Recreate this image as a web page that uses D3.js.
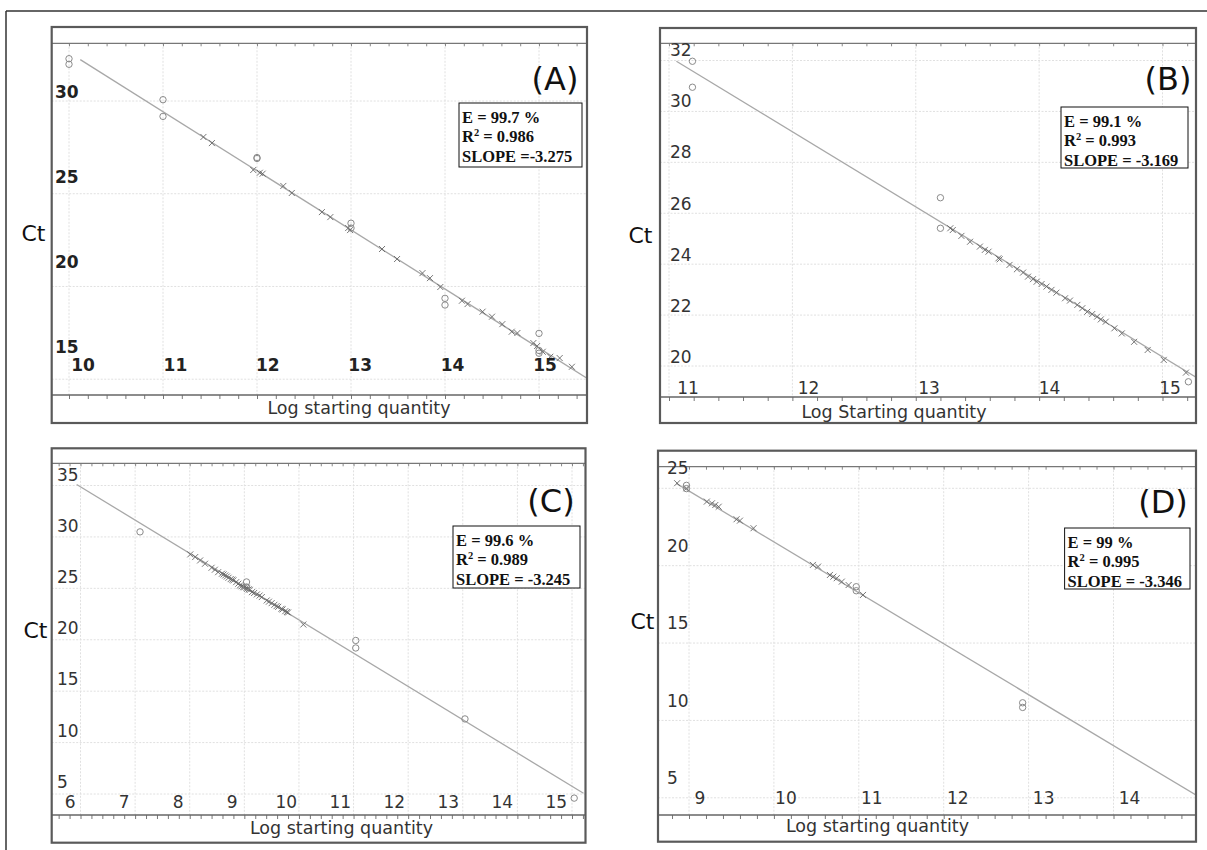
<!DOCTYPE html>
<html><head><meta charset="utf-8">
<script src="https://cdn.jsdelivr.net/npm/d3@7"></script>
<style>body{margin:0;background:#fff}svg{display:block}</style>
</head><body><svg id="c" width="1207" height="850"></svg>
<script>
// ---------------- data ----------------
const panelLetters = ["(A)", "(B)", "(C)", "(D)"];
const statE = ["E = 99.7 %", "E = 99.1 %", "E = 99.6 %", "E = 99 %"];
const statR2 = ["0.986", "0.993", "0.989", "0.995"];
const statSlope = ["SLOPE =-3.275", "SLOPE = -3.169", "SLOPE = -3.245", "SLOPE = -3.346"];
const xTitles = ["Log starting quantity", "Log Starting quantity", "Log starting quantity", "Log starting quantity"];
const yTitle = "Ct";

const xTicksA = [10, 11, 12, 13, 14, 15];
const yTicksA = [15, 20, 25, 30];
const xTicksB = [11, 12, 13, 14, 15];
const yTicksB = [20, 22, 24, 26, 28, 30, 32];
const xTicksC = [6, 7, 8, 9, 10, 11, 12, 13, 14, 15];
const yTicksC = [5, 10, 15, 20, 25, 30, 35];
const xTicksD = [9, 10, 11, 12, 13, 14];
const yTicksD = [5, 10, 15, 20, 25];

// regression line end points (log qty, Ct)
const fitA_x = [10.12, 15.51], fitA_ct = [32.23, 15.05];
const fitB_x = [11.06, 15.28], fitB_ct = [31.97, 19.53];
const fitC_x = [5.93, 15.21],  fitC_ct = [35.1, 5.07];
const fitD_x = [8.85, 14.97],  fitD_ct = [25.32, 5.18];

// circle markers (standards)
const circlesA_x  = [10, 10, 11, 11, 12, 12, 13, 13, 14, 14, 15, 15, 15];
const circlesA_ct = [32.28, 31.98, 30.07, 29.17, 26.95, 26.9, 23.41, 23.15, 19.36, 19.0, 17.47, 16.55, 16.4];
const circlesB_x  = [11.19, 11.19, 13.2, 13.2, 15.21];
const circlesB_ct = [31.97, 30.95, 26.61, 25.41, 19.38];
const circlesC_x  = [7.09, 9.04, 9.04, 11.04, 11.04, 13.04, 15.04];
const circlesC_ct = [30.49, 25.62, 25.13, 19.93, 19.2, 12.3, 4.6];
const circlesD_x  = [8.97, 8.97, 10.97, 10.97, 12.93, 12.93];
const circlesD_ct = [25.19, 24.98, 18.64, 18.38, 11.14, 10.84];

// cross markers (unknowns)
const crossesA_x  = [11.43, 11.52, 11.96, 12.03, 12.06, 12.28, 12.37, 12.69, 12.78, 12.97, 12.99, 13.33, 13.49, 13.76, 13.84, 13.95, 14.18, 14.24, 14.40, 14.50, 14.61, 14.71, 14.77, 14.94, 14.98, 15.04, 15.12, 15.22, 15.35];
const crossesA_ct = [28.06, 27.73, 26.28, 26.13, 26.08, 25.42, 25.04, 24.01, 23.74, 23.15, 23.04, 22.02, 21.48, 20.72, 20.45, 19.97, 19.23, 19.05, 18.64, 18.37, 17.97, 17.56, 17.49, 16.95, 16.79, 16.48, 16.21, 16.14, 15.67];
const crossesB_x  = [13.28, 13.30, 13.37, 13.44, 13.52, 13.56, 13.59, 13.67, 13.68, 13.76, 13.82, 13.87, 13.91, 13.95, 13.98, 14.02, 14.06, 14.10, 14.14, 14.21, 14.25, 14.31, 14.35, 14.39, 14.43, 14.47, 14.50, 14.54, 14.61, 14.67, 14.77, 14.88, 15.01, 15.19];
const crossesB_ct = [25.41, 25.34, 25.11, 24.88, 24.69, 24.56, 24.49, 24.23, 24.19, 23.97, 23.80, 23.67, 23.51, 23.41, 23.31, 23.22, 23.12, 22.99, 22.88, 22.66, 22.57, 22.40, 22.27, 22.13, 22.04, 21.94, 21.83, 21.74, 21.48, 21.28, 20.95, 20.63, 20.24, 19.74];
const crossesC_x  = [8.01, 8.10, 8.19, 8.28, 8.40, 8.46, 8.52, 8.59, 8.62, 8.65, 8.68, 8.71, 8.75, 8.78, 8.80, 8.85, 8.89, 8.92, 8.95, 8.98, 9.00, 9.04, 9.05, 9.08, 9.10, 9.14, 9.18, 9.23, 9.28, 9.32, 9.41, 9.45, 9.50, 9.55, 9.59, 9.62, 9.68, 9.70, 9.75, 9.78, 9.80, 10.08];
const crossesC_ct = [28.30, 28.04, 27.71, 27.39, 27.00, 26.81, 26.57, 26.42, 26.35, 26.25, 26.15, 26.03, 25.90, 25.85, 25.77, 25.60, 25.45, 25.28, 25.20, 25.12, 25.10, 25.06, 24.95, 24.90, 24.85, 24.63, 24.55, 24.41, 24.30, 24.15, 23.82, 23.70, 23.56, 23.40, 23.27, 23.20, 23.01, 22.95, 22.78, 22.70, 22.65, 21.48];
const crossesD_x  = [8.86, 8.97, 9.21, 9.27, 9.31, 9.35, 9.56, 9.60, 9.76, 10.46, 10.52, 10.66, 10.70, 10.74, 10.80, 10.88, 11.05];
const crossesD_ct = [25.33, 25.0, 24.14, 24.03, 23.92, 23.81, 23.0, 22.91, 22.42, 20.05, 19.94, 19.40, 19.29, 19.19, 18.97, 18.75, 18.11];

// ---------------- layout (pixels) ----------------
const layout = [
  { l: 51.7, t: 27, r: 587, b: 423, innerTop: 43.3, axisY: 395,
    xRng: [69, 539], yRng: [101, 379.2], xLabRng: [83, 545], xLabY: 365,
    yLabRng: [92, 347], yLabX: 55, ct: [33.5, 233], title: [359, 408],
    letter: [555, 79], stat: [459, 103, 582, 167], bold: true },
  { l: 660, t: 28, r: 1196, b: 423, innerTop: 43.3, axisY: 397,
    xRng: [669, 1162.5], yRng: [60.5, 366], xLabRng: [688, 1170], xLabY: 388,
    yLabRng: [50, 357], yLabX: 670, ct: [640.5, 235], title: [894, 412],
    letter: [1168, 79], stat: [1061, 107, 1188, 168], bold: false },
  { l: 51.7, t: 448.3, r: 585.5, b: 842.7, innerTop: 463.3, axisY: 815,
    xRng: [80.5, 572], yRng: [485.5, 794], xLabRng: [70.25, 556.25], xLabY: 802,
    yLabRng: [475, 781.7], yLabX: 57, ct: [35.5, 630], title: [341.5, 828],
    letter: [551, 501], stat: [453, 526, 580, 588], bold: false },
  { l: 658, t: 450.7, r: 1196, b: 841.7, innerTop: 466.7, axisY: 815,
    xRng: [689, 1113.5], yRng: [488.3, 797.8], xLabRng: [700, 1129.6], xLabY: 798,
    yLabRng: [468, 778], yLabX: 667, ct: [642.5, 621.7], title: [877.5, 826],
    letter: [1163, 502], stat: [1064.6, 528, 1190, 589], bold: false }
];

const panels = [
  { xTicks: xTicksA, yTicks: yTicksA, fitX: fitA_x, fitY: fitA_ct, cx: circlesA_x, cy: circlesA_ct, kx: crossesA_x, ky: crossesA_ct },
  { xTicks: xTicksB, yTicks: yTicksB, fitX: fitB_x, fitY: fitB_ct, cx: circlesB_x, cy: circlesB_ct, kx: crossesB_x, ky: crossesB_ct },
  { xTicks: xTicksC, yTicks: yTicksC, fitX: fitC_x, fitY: fitC_ct, cx: circlesC_x, cy: circlesC_ct, kx: crossesC_x, ky: crossesC_ct },
  { xTicks: xTicksD, yTicks: yTicksD, fitX: fitD_x, fitY: fitD_ct, cx: circlesD_x, cy: circlesD_ct, kx: crossesD_x, ky: crossesD_ct }
];

const svg = d3.select("#c");
const FONT = "'DejaVu Sans', Verdana, sans-serif";

// outer frame
svg.append("line").attr("x1", 6).attr("y1", 11).attr("x2", 1207).attr("y2", 11)
  .attr("stroke", "#333").attr("stroke-width", 1.5);
svg.append("line").attr("x1", 6).attr("y1", 11).attr("x2", 6).attr("y2", 850)
  .attr("stroke", "#333").attr("stroke-width", 1.5);

panels.forEach((p, i) => {
  const L = layout[i];
  const xFirst = p.xTicks[0], xLast = p.xTicks[p.xTicks.length - 1];
  const yMax = d3.max(p.yTicks), yMin = d3.min(p.yTicks);
  const x = d3.scaleLinear().domain([xFirst, xLast]).range(L.xRng);
  const y = d3.scaleLinear().domain([yMax, yMin]).range(L.yRng);
  const xLab = d3.scaleLinear().domain([xFirst, xLast]).range(L.xLabRng);
  const yLab = d3.scaleLinear().domain([yMax, yMin]).range(L.yLabRng);
  const g = svg.append("g");

  const clipId = "clip" + i;
  svg.append("clipPath").attr("id", clipId).append("rect")
    .attr("x", L.l).attr("y", L.innerTop).attr("width", L.r - L.l).attr("height", L.axisY - L.innerTop);

  g.append("rect").attr("x", L.l).attr("y", L.t).attr("width", L.r - L.l).attr("height", L.b - L.t).attr("fill", "#fff");

  // horizontal grid
  g.selectAll(".hg").data(p.yTicks).join("line")
    .attr("x1", L.l).attr("x2", L.r).attr("y1", d => y(d)).attr("y2", d => y(d))
    .attr("stroke", "#e0e0e0").attr("stroke-width", 1).attr("stroke-dasharray", "2,1.5");
  // vertical grid
  g.selectAll(".vg").data(p.xTicks).join("line")
    .attr("x1", d => x(d)).attr("x2", d => x(d)).attr("y1", L.innerTop).attr("y2", L.axisY)
    .attr("stroke", "#e0e0e0").attr("stroke-width", 1).attr("stroke-dasharray", "2,1.5");

  // minor ticks every 0.2
  const x0 = x.invert(L.l), x1 = x.invert(L.r);
  const minor = d3.range(Math.ceil(x0 * 5) / 5, x1, 0.2);
  const bottomAxis = d3.axisBottom(x).tickValues(minor).tickSize(4).tickFormat("");
  const ba = g.append("g").attr("transform", `translate(0,${L.axisY})`).call(bottomAxis);
  ba.select(".domain").remove();
  ba.selectAll("line").attr("stroke", "#777");
  const topAxis = d3.axisBottom(x).tickValues(minor).tickSize(3).tickFormat("");
  const ta = g.append("g").attr("transform", `translate(0,${L.innerTop})`).call(topAxis);
  ta.select(".domain").remove();
  ta.selectAll("line").attr("stroke", "#888");

  g.append("line").attr("x1", L.l).attr("x2", L.r).attr("y1", L.innerTop).attr("y2", L.innerTop)
    .attr("stroke", "#777").attr("stroke-width", 1.3);
  g.append("line").attr("x1", L.l).attr("x2", L.r).attr("y1", L.axisY).attr("y2", L.axisY)
    .attr("stroke", "#666").attr("stroke-width", 1.4);

  // data layer
  const dg = g.append("g").attr("clip-path", `url(#${clipId})`);
  const line = d3.line().x(d => x(d[0])).y(d => y(d[1]));
  dg.append("path").datum(p.fitX.map((v, k) => [v, p.fitY[k]]))
    .attr("d", line).attr("fill", "none").attr("stroke", "#a8a8a8").attr("stroke-width", 1.3);
  dg.selectAll(".cr").data(p.kx.map((v, k) => [v, p.ky[k]])).join("path")
    .attr("transform", d => `translate(${x(d[0])},${y(d[1])})`)
    .attr("d", "M-3,-3L3,3M-3,3L3,-3")
    .attr("stroke", "#666").attr("stroke-width", 0.9).attr("fill", "none");
  dg.selectAll(".ci").data(p.cx.map((v, k) => [v, p.cy[k]])).join("circle")
    .attr("cx", d => x(d[0])).attr("cy", d => y(d[1])).attr("r", 3.2)
    .attr("fill", "none").attr("stroke", "#8a8a8a").attr("stroke-width", 1);

  // tick labels
  g.selectAll(".yl").data(p.yTicks).join("text")
    .attr("x", L.yLabX).attr("y", d => yLab(d)).attr("dominant-baseline", "central")
    .attr("font-family", FONT).attr("font-size", 17)
    .attr("font-weight", L.bold ? "bold" : "normal")
    .attr("fill", L.bold ? "#222" : "#333").text(d => d);
  g.selectAll(".xl").data(p.xTicks).join("text")
    .attr("x", d => xLab(d)).attr("y", L.xLabY).attr("dominant-baseline", "central")
    .attr("text-anchor", "middle")
    .attr("font-family", FONT).attr("font-size", 17)
    .attr("font-weight", L.bold ? "bold" : "normal")
    .attr("fill", L.bold ? "#222" : "#333").text(d => d);

  // axis titles
  g.append("text").attr("x", L.title[0]).attr("y", L.title[1]).attr("text-anchor", "middle")
    .attr("dominant-baseline", "central").attr("font-family", FONT).attr("font-size", 17.5)
    .attr("fill", "#333").text(xTitles[i]);
  svg.append("text").attr("x", L.ct[0]).attr("y", L.ct[1]).attr("text-anchor", "middle")
    .attr("dominant-baseline", "central").attr("font-family", FONT).attr("font-size", 22)
    .attr("fill", "#111").text(yTitle);

  // panel letter
  g.append("text").attr("x", L.letter[0]).attr("y", L.letter[1]).attr("text-anchor", "middle")
    .attr("dominant-baseline", "central").attr("font-family", FONT).attr("font-size", 32)
    .attr("fill", "#111").text(panelLetters[i]);

  // stats box
  const [sx0, sy0, sx1, sy1] = L.stat;
  g.append("rect").attr("x", sx0).attr("y", sy0).attr("width", sx1 - sx0).attr("height", sy1 - sy0)
    .attr("fill", "#fff").attr("stroke", "#111").attr("stroke-width", 1);
  const st = { "font-family": "'Liberation Serif', 'Times New Roman', serif", "font-size": 16.5, "font-weight": "bold", "fill": "#111" };
  const addT = (yy) => { const t = g.append("text").attr("x", sx0 + 3).attr("y", sy0 + yy); Object.entries(st).forEach(([k, v]) => t.attr(k, v)); return t; };
  addT(19.5).text(statE[i]);
  const r2 = addT(39);
  r2.append("tspan").text("R");
  r2.append("tspan").attr("dy", -6).attr("font-size", 10.5).text("2");
  r2.append("tspan").attr("dy", 6).text(" = " + statR2[i]);
  addT(58.5).text(statSlope[i]);

  // panel border
  g.append("rect").attr("x", L.l).attr("y", L.t).attr("width", L.r - L.l).attr("height", L.b - L.t)
    .attr("fill", "none").attr("stroke", "#5a5a5a").attr("stroke-width", 2.2);
});
</script>
</body></html>
